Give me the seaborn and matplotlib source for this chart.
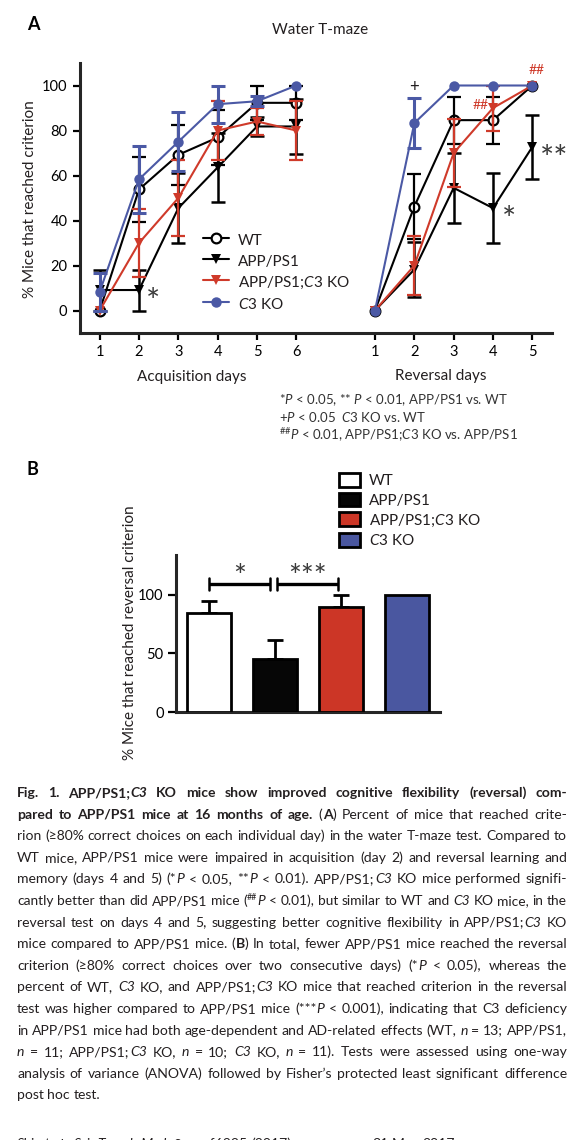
import numpy as np
import pandas as pd
import seaborn as sns
import matplotlib
matplotlib.use('Agg')
import matplotlib.pyplot as plt
from matplotlib.lines import Line2D
from matplotlib.patches import Patch

# ---- data ----
groups = ['WT', 'APP/PS1', 'APP/PS1;C3 KO', 'C3 KO']
group_labels = ['WT', 'APP/PS1', r'APP/PS1;$\mathit{C3}$ KO', r'$\mathit{C3}$ KO']

acq_days = [1, 2, 3, 4, 5, 6]
rev_days = [1, 2, 3, 4, 5]

wt_acq = [0, 53.8, 69.2, 76.9, 92.3, 92.3]
wt_acq_err = [0, 14.4, 13.3, 12.2, 7.7, 7.7]
app_acq = [9.1, 9.1, 45.5, 63.6, 81.8, 81.8]
app_acq_err = [9.1, 9.1, 15.7, 15.2, 4.3, 12.2]
koapp_acq = [0, 30, 50, 80, 84, 80]
koapp_acq_err = [0, 15.3, 16.7, 13.3, 6, 13.3]
c3_acq = [8.3, 58.3, 75, 91.7, 93, 100]
c3_acq_err = [8.3, 14.9, 13.1, 8.3, 2.3, 0]

wt_rev = [0, 46.2, 84.6, 84.6, 100]
wt_rev_err = [0, 14.4, 10.4, 10.4, 0]
app_rev = [0, 18.2, 54.5, 45.5, 72.7]
app_rev_err = [0, 12.2, 15.7, 15.7, 14.1]
koapp_rev = [0, 20, 70, 90, 100]
koapp_rev_err = [0, 13.3, 15.3, 10, 0]
c3_rev = [0, 83.3, 100, 100, 100]
c3_rev_err = [0, 11.2, 0, 0, 0]

reversal_total = [84.6, 45.5, 90, 100]
reversal_total_err = [10.4, 15.7, 10, 0]

caption_lines = [
    "~Fig. 1.  APP/PS1;`C3` KO mice show improved cognitive flexibility (reversal) com-~",
    "~pared to APP/PS1 mice at 16 months of age.~ (~A~) Percent of mice that reached crite-",
    "rion (\u226580% correct choices on each individual day) in the water T-maze test. Compared to",
    "WT mice, APP/PS1 mice were impaired in acquisition (day 2) and reversal learning and",
    "memory (days 4 and 5) (*`P` < 0.05, **`P` < 0.01). APP/PS1;`C3` KO mice performed signifi-",
    "cantly better than did APP/PS1 mice (^##^`P` < 0.01), but similar to WT and `C3` KO mice, in the",
    "reversal test on days 4 and 5, suggesting better cognitive flexibility in APP/PS1;`C3` KO",
    "mice compared to APP/PS1 mice. (~B~) In total, fewer APP/PS1 mice reached the reversal",
    "criterion (\u226580% correct choices over two consecutive days) (*`P` < 0.05), whereas the",
    "percent of WT, `C3` KO, and APP/PS1;`C3` KO mice that reached criterion in the reversal",
    "test was higher compared to APP/PS1 mice (***`P` < 0.001), indicating that C3 deficiency",
    "in APP/PS1 mice had both age-dependent and AD-related effects (WT, `n` = 13; APP/PS1,",
    "`n` = 11; APP/PS1;`C3` KO, `n` = 10; `C3` KO, `n` = 11). Tests were assessed using one-way",
    "analysis of variance (ANOVA) followed by Fisher\u2019s protected least significant difference",
    "post hoc test.",
]
footer_left = "`Shi et al., Sci. Transl. Med.` 9, eaaf6295 (2017)"
footer_right = "31 May 2017"

# ---- style ----
sns.set_style('ticks')
plt.rcParams['font.family'] = ['Lato', 'DejaVu Sans']
plt.rcParams['mathtext.fontset'] = 'custom'
plt.rcParams['mathtext.rm'] = 'Lato'
plt.rcParams['mathtext.it'] = 'Lato:italic'
plt.rcParams['mathtext.bf'] = 'Lato:bold'
plt.rcParams['text.color'] = '#231f20'

RED = '#cf3a2a'
BLUE = '#4b59a5'
W, H = 581, 1140

fig = plt.figure(figsize=(W / 100, H / 100), dpi=100)


def fx(px):
    return px / W


def fy(py):
    return 1 - py / H


def ftxt(x, y, s, **kw):
    return fig.text(fx(x), fy(y), s, **kw)


# ---- panel A ----
rows = []
series = {
    'WT': (wt_acq, wt_acq_err, wt_rev, wt_rev_err),
    'APP/PS1': (app_acq, app_acq_err, app_rev, app_rev_err),
    'APP/PS1;C3 KO': (koapp_acq, koapp_acq_err, koapp_rev, koapp_rev_err),
    'C3 KO': (c3_acq, c3_acq_err, c3_rev, c3_rev_err),
}
for g, (a, ae, r, re_) in series.items():
    for d, v, e in zip(acq_days, a, ae):
        rows.append([g, 'acq', d, d, v, e])
    for d, v, e in zip(rev_days, r, re_):
        rows.append([g, 'rev', d, d + 7, v, e])
df = pd.DataFrame(rows, columns=['group', 'phase', 'day', 'pos', 'pct', 'err'])

styles = {
    'WT': dict(color='black', marker='o', mfc='white', mec='black', mew=1.6, ms=7, lw=1.5),
    'APP/PS1': dict(color='black', marker='v', mfc='black', mec='black', mew=0, ms=7.5, lw=1.5),
    'APP/PS1;C3 KO': dict(color=RED, marker='v', mfc=RED, mec=RED, mew=0, ms=7.5, lw=1.5),
    'C3 KO': dict(color=BLUE, marker='o', mfc=BLUE, mec=BLUE, mew=0, ms=7.5, lw=1.5),
}
elw = {'WT': 1.6, 'APP/PS1': 1.8, 'APP/PS1;C3 KO': 1.6, 'C3 KO': 2.2}

axA = fig.add_axes([fx(80), fy(333), fx(552) - fx(80), fy(63) - fy(333)])
for z, g in enumerate(groups):
    st = styles[g]
    for ph in ['acq', 'rev']:
        sub = df[(df['group'] == g) & (df['phase'] == ph)]
        sns.lineplot(data=sub, x='pos', y='pct', ax=axA, errorbar=None, legend=False,
                     color=st['color'], lw=st['lw'], marker=st['marker'], ms=st['ms'],
                     markerfacecolor=st['mfc'], markeredgecolor=st['mec'],
                     markeredgewidth=st['mew'], zorder=3 + z)
        e = sub[sub['err'] > 0]
        axA.errorbar(e['pos'], e['pct'], yerr=e['err'], fmt='none', ecolor=st['color'],
                     elinewidth=elw[g], capsize=5, capthick=elw[g], zorder=3 + z)

axA.set_xlim(0.5, 12.5)
axA.set_ylim(-10, 110)
axA.set_xticks(acq_days + [d + 7 for d in rev_days])
axA.set_xticklabels([str(d) for d in acq_days] + [str(d) for d in rev_days])
axA.set_yticks([0, 20, 40, 60, 80, 100])
axA.set_xlabel('')
axA.set_ylabel('')
for sp in ['top', 'right']:
    axA.spines[sp].set_visible(False)
for sp in ['left', 'bottom']:
    axA.spines[sp].set_linewidth(2.2)
axA.tick_params(direction='out', length=5, width=1.6, labelsize=10.5, pad=4, colors='black')

handles = [Line2D([], [], color=styles[g]['color'], marker=styles[g]['marker'],
                  mfc=styles[g]['mfc'], mec=styles[g]['mec'], mew=styles[g]['mew'],
                  ms=styles[g]['ms'], lw=1.5) for g in groups]
axA.legend(handles, group_labels, loc='upper left', bbox_to_anchor=(fx(203), fy(232)),
           bbox_transform=fig.transFigure, frameon=False, fontsize=11, handlelength=1.7,
           handletextpad=0.6, handleheight=1.2, labelspacing=0.32, borderpad=0,
           borderaxespad=0)

# significance marks
star_kw = dict(color='#3a3a3a', fontsize=24, ha='center', va='center')
axA.text(2.35, 3.5, '*', **star_kw)
axA.text(11.42, 40, '*', **star_kw)
axA.text(12.55, 67, '**', **star_kw)
axA.text(9.0, 99.5, '+', color='#231f20', fontsize=12, ha='center', va='center')
axA.text(10.68, 91.5, '##', color=RED, fontsize=10, ha='center', va='center')
axA.text(12.1, 107, '##', color=RED, fontsize=10, ha='center', va='center')

ftxt(27, 24, 'A', fontsize=13, fontweight='bold', ha='left', va='center', color='black')
ftxt(320, 30, 'Water T-maze', fontsize=11, ha='center', va='center')
ftxt(30, 199, '% Mice that reached criterion', fontsize=11, rotation=90, ha='center', va='center')
ftxt(192, 377, 'Acquisition days', fontsize=11, ha='center', va='center')
ftxt(441, 376, 'Reversal days', fontsize=11, ha='center', va='center')
fn_kw = dict(fontsize=9.5, ha='left', va='baseline', color='#333333')
ftxt(279, 404, r'*$P$ < 0.05, ** $P$ < 0.01, APP/PS1 vs. WT', **fn_kw)
ftxt(279, 422, r'+$P$ < 0.05  $\mathit{C3}$ KO vs. WT', **fn_kw)
ftxt(279, 440, r'$^{\#\#}P$ < 0.01, APP/PS1;$\mathit{C3}$ KO vs. APP/PS1', **fn_kw)

# ---- panel B ----
bar_colors = ['white', '#060606', '#cc3626', '#4a57a0']
axB = fig.add_axes([fx(176), fy(712), fx(440) - fx(176), fy(555) - fy(712)])
sns.barplot(x=groups, y=reversal_total, hue=groups, palette=bar_colors, saturation=1,
            edgecolor='black', linewidth=2, width=0.67, legend=False, ax=axB, zorder=3)
xb = np.arange(len(groups))
eb = np.array(reversal_total_err)
m = eb > 0
axB.errorbar(xb[m], np.array(reversal_total)[m], yerr=[np.zeros(m.sum()), eb[m]], fmt='none',
             ecolor='black', elinewidth=2, capsize=6, capthick=2, zorder=2)
axB.set_xlim(-0.5, 3.5)
axB.set_ylim(0, 134)
axB.set_yticks([0, 50, 100])
axB.set_xticks([])
axB.set_xlabel('')
axB.set_ylabel('')
for sp in ['top', 'right']:
    axB.spines[sp].set_visible(False)
for sp in ['left', 'bottom']:
    axB.spines[sp].set_linewidth(2.2)
axB.tick_params(axis='y', direction='out', length=6, width=1.6, labelsize=10.5, pad=3, colors='black')

# brackets
br_y = 109.4
for x0, x1, lab in [(0, 0.93, '*'), (1.03, 1.95, '***')]:
    axB.plot([x0, x1], [br_y, br_y], color='black', lw=2.4, solid_capstyle='butt')
    for xe in (x0, x1):
        axB.plot([xe, xe], [br_y - 5, br_y + 5], color='black', lw=1.8)
    axB.text((x0 + x1) / 2, br_y + 6, lab, color='#3a3a3a', fontsize=22, ha='center', va='center')

bh = [Patch(facecolor=c, edgecolor='black', linewidth=2) for c in bar_colors]
axB.legend(bh, group_labels, loc='upper left', bbox_to_anchor=(fx(339), fy(473)),
           bbox_transform=fig.transFigure, frameon=False, fontsize=11, handlelength=1.35,
           handleheight=1.0, handletextpad=0.6, labelspacing=0.3, borderpad=0,
           borderaxespad=0)

ftxt(26, 470, 'B', fontsize=13, fontweight='bold', ha='left', va='center', color='black')
ftxt(130, 633, '% Mice that reached reversal criterion', fontsize=11, rotation=90,
     ha='center', va='center')

# ---- caption (justified text) ----
rend = fig.canvas.get_renderer()
KEYS = {'`': 'i', '~': 'b', '^': 's'}


def parse_words(line):
    words, segs = [], []
    buf = ''
    st = {'i': False, 'b': False, 's': False}
    for ch in line:
        if ch in KEYS:
            if buf:
                segs.append((buf, st['i'], st['b'], st['s']))
                buf = ''
            st[KEYS[ch]] = not st[KEYS[ch]]
        elif ch == ' ':
            if buf:
                segs.append((buf, st['i'], st['b'], st['s']))
                buf = ''
            if segs:
                words.append(segs)
                segs = []
        else:
            buf += ch
    if buf:
        segs.append((buf, st['i'], st['b'], st['s']))
    if segs:
        words.append(segs)
    return words


def make_line(line, size):
    out = []
    for w in parse_words(line):
        parts, wsum = [], 0
        for text, it, bd, sup in w:
            t = fig.text(0, 0, text, fontsize=size * (0.65 if sup else 1),
                         fontstyle='italic' if it else 'normal',
                         fontweight='bold' if bd else 'normal', ha='left', va='baseline')
            wd = t.get_window_extent(renderer=rend).width
            parts.append((t, wsum, sup))
            wsum += wd
        out.append((parts, wsum))
    return out


def drop(built_line):
    for parts, _ in built_line:
        for t, _, _ in parts:
            t.remove()


def space_width(size):
    a = fig.text(0, 0, 'a a', fontsize=size)
    b = fig.text(0, 0, 'aa', fontsize=size)
    w = a.get_window_extent(renderer=rend).width - b.get_window_extent(renderer=rend).width
    a.remove()
    b.remove()
    return w


def place(built_line, x, base, gap):
    for parts, wsum in built_line:
        for t, off, sup in parts:
            t.set_position((fx(x + off), fy(base)))
        x += wsum + gap


X0, X1 = 17, 567
avail = X1 - X0
base_size = 10.5
sw = space_width(base_size)
naturals = []
for l in caption_lines[:-1]:
    b = make_line(l, base_size)
    naturals.append(sum(w for _, w in b) + sw * (len(b) - 1))
    drop(b)
cap_size = base_size * avail * 0.975 / np.median(naturals)

line_sizes = []
for l, nat in zip(caption_lines, naturals + [0]):
    s = cap_size
    if nat * cap_size / base_size > avail * 0.995:
        s = cap_size * avail * 0.995 / (nat * cap_size / base_size)
    line_sizes.append(s)

for k, (l, s) in enumerate(zip(caption_lines, line_sizes)):
    b = make_line(l, s)
    size_px = s * 100 / 72
    base = 797 + 21.6 * k
    total = sum(w for _, w in b)
    justify = k < len(caption_lines) - 1
    gap = (avail - total) / (len(b) - 1) if justify else space_width(s)
    x = X0
    for parts, wsum in b:
        for t, off, sup in parts:
            yy = base - (0.4 * size_px if sup else 0)
            t.set_position((fx(x + off), fy(yy)))
        x += wsum + gap

# running footer, cut by the page edge as in the source
fsw = space_width(cap_size)
place(make_line(footer_left, cap_size), X0, 1148, fsw)
place(make_line(footer_right, cap_size), 372, 1148, fsw)

fig.savefig('out.png', dpi=100)
